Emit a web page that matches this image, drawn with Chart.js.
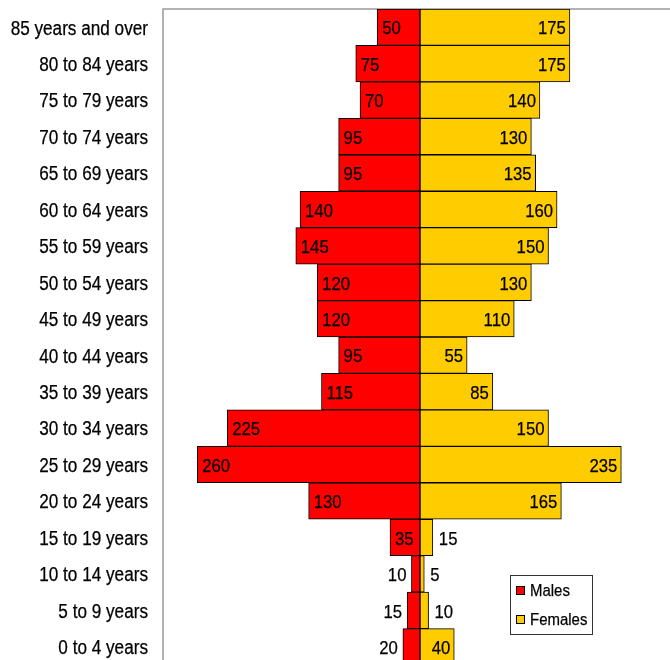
<!DOCTYPE html>
<html><head><meta charset="utf-8">
<script src="https://cdn.jsdelivr.net/npm/chart.js@4/dist/chart.umd.min.js"></script>
<style>html,body{margin:0;padding:0;overflow:hidden;background:#fff}#wrap{width:682px;height:665px;position:relative}</style>
</head><body><div id="wrap"><canvas id="c" width="682" height="665"></canvas></div>
<script>
const ageGroups = ['85 years and over','80 to 84 years','75 to 79 years','70 to 74 years','65 to 69 years','60 to 64 years','55 to 59 years','50 to 54 years','45 to 49 years','40 to 44 years','35 to 39 years','30 to 34 years','25 to 29 years','20 to 24 years','15 to 19 years','10 to 14 years','5 to 9 years','0 to 4 years'];
const males = [50,75,70,95,95,140,145,120,120,95,115,225,260,130,35,10,15,20];
const females = [175,175,140,130,135,160,150,130,110,55,85,150,235,165,15,5,10,40];
const seriesNames = ['Males','Females'];
const seriesColors = ['#FF0000','#FFCC00'];
const axisMin = -300, axisMax = 300;

const FONT = '"Liberation Sans", Arial, sans-serif';
const SQUEEZE = 0.88;

function squeezedText(ctx, txt, x, y, align, size) {
  ctx.save();
  ctx.font = size + 'px ' + FONT;
  ctx.textAlign = align;
  ctx.textBaseline = 'middle';
  ctx.translate(x, y);
  ctx.scale(SQUEEZE, 1);
  ctx.fillText(txt, 0, 0);
  ctx.lineWidth = 0.25;
  ctx.strokeStyle = ctx.fillStyle;
  ctx.strokeText(txt, 0, 0);
  ctx.restore();
}

const framePlugin = {
  id: 'frame',
  beforeDatasetsDraw(chart) {
    const {ctx, chartArea: a} = chart;
    ctx.save();
    ctx.strokeStyle = '#999';
    ctx.lineWidth = 1.5;
    ctx.strokeRect(a.left, a.top, a.right - a.left, a.bottom - a.top);
    ctx.restore();
  }
};

const tickLabelPlugin = {
  id: 'tickLabels',
  afterDraw(chart) {
    const ctx = chart.ctx;
    const ys = chart.scales.y;
    ctx.save();
    ctx.fillStyle = '#000';
    chart.data.labels.forEach((lab, i) => {
      squeezedText(ctx, lab, ys.right - 15, ys.getPixelForValue(i) + 2, 'right', 19.5);
    });
    ctx.restore();
  }
};

const labelPlugin = {
  id: 'barLabels',
  afterDatasetsDraw(chart) {
    const ctx = chart.ctx;
    ctx.save();
    ctx.fillStyle = '#000';
    chart.data.datasets.forEach((ds, di) => {
      const meta = chart.getDatasetMeta(di);
      meta.data.forEach((el, i) => {
        const v = Math.abs(ds.data[i]);
        const txt = String(v);
        const y = el.y + 2;
        if (ds.data[i] < 0) {
          if (v >= 30) squeezedText(ctx, txt, el.x + 5, y, 'left', 19);
          else squeezedText(ctx, txt, el.x - 5, y, 'right', 19);
        } else {
          if (v >= 30) squeezedText(ctx, txt, el.x - 4, y, 'right', 19);
          else squeezedText(ctx, txt, el.x + 6, y, 'left', 19);
        }
      });
    });
    ctx.restore();
  }
};

const legendPlugin = {
  id: 'boxLegend',
  afterDraw(chart) {
    const ctx = chart.ctx;
    ctx.save();
    const bx = 510.5, by = 575.5, bw = 82, bh = 59;
    ctx.fillStyle = '#fff';
    ctx.fillRect(bx, by, bw, bh);
    ctx.strokeStyle = '#333';
    ctx.lineWidth = 1;
    ctx.strokeRect(bx, by, bw, bh);
    chart.data.datasets.forEach((ds, i) => {
      const cy = 591 + i * 29;
      ctx.fillStyle = ds.backgroundColor;
      ctx.fillRect(516.5, cy - 4.5, 8, 8);
      ctx.strokeStyle = '#000';
      ctx.strokeRect(516.5, cy - 4.5, 8, 8);
      ctx.fillStyle = '#000';
      squeezedText(ctx, ds.label, 530, cy, 'left', 17);
    });
    ctx.restore();
  }
};

new Chart(document.getElementById('c'), {
  type: 'bar',
  data: {
    labels: ageGroups,
    datasets: [
      { label: seriesNames[0], data: males.map(v => -v), backgroundColor: seriesColors[0] },
      { label: seriesNames[1], data: females.slice(), backgroundColor: seriesColors[1] }
    ].map(d => Object.assign(d, { borderColor: '#000', borderWidth: 1, borderSkipped: false, barPercentage: 1, categoryPercentage: 1 }))
  },
  options: {
    indexAxis: 'y',
    responsive: false,
    animation: false,
    devicePixelRatio: 1,
    layout: { padding: { top: 9, right: 5, bottom: 0, left: 0 } },
    plugins: { legend: { display: false }, tooltip: { enabled: false } },
    scales: {
      x: { display: false, stacked: true, min: axisMin, max: axisMax },
      y: {
        stacked: true,
        grid: { display: false, drawTicks: false },
        border: { display: false },
        ticks: { display: false },
        afterFit(s) { s.width = 163; s.paddingTop = 0; s.paddingBottom = 0; }
      }
    }
  },
  plugins: [framePlugin, labelPlugin, legendPlugin, tickLabelPlugin]
});
</script></body></html>
